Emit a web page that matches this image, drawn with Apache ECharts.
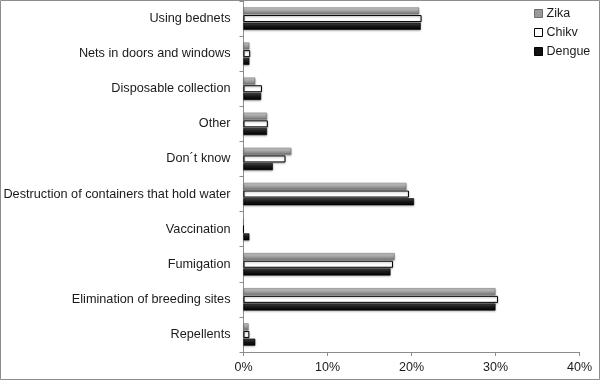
<!DOCTYPE html>
<html>
<head>
<meta charset="utf-8">
<script src="https://cdn.jsdelivr.net/npm/echarts@6/dist/echarts.min.js"></script>
<style>
html,body{margin:0;padding:0;background:#fff;}
#c{width:600px;height:380px;}
</style>
</head>
<body>
<div id="c"></div>
<script>
const categories = [
  "Using bednets",
  "Nets in doors and windows",
  "Disposable collection",
  "Other",
  "Don\u00b4t know",
  "Destruction of containers that hold water",
  "Vaccination",
  "Fumigation",
  "Elimination of breeding sites",
  "Repellents"
];
const zika   = [20.9, 0.7, 1.4, 2.8, 5.7, 19.4, 0,   18.0, 30.0, 0.6];
const chikv  = [21.2, 0.8, 2.2, 2.9, 5.0, 19.7, 0,   17.8, 30.3, 0.7];
const dengue = [21.1, 0.7, 2.1, 2.8, 3.5, 20.3, 0.7, 17.5, 30.0, 1.4];
const xTicks = [0, 10, 20, 30, 40];

const chart = echarts.init(document.getElementById('c'), null, {renderer: 'canvas'});

const zikaFill = new echarts.graphic.LinearGradient(0, 0, 0, 1, [
  {offset: 0, color: '#d6d6d6'},
  {offset: 0.5, color: '#a3a3a3'},
  {offset: 1, color: '#6e6e6e'}
]);
const dengueFill = new echarts.graphic.LinearGradient(0, 0, 0, 1, [
  {offset: 0, color: '#4a4a4a'},
  {offset: 0.45, color: '#1a1a1a'},
  {offset: 1, color: '#000000'}
]);

const barCommon = {
  type: 'bar',
  barWidth: 7,
  barGap: '10%',
  animation: false
};

chart.setOption({
  animation: false,
  backgroundColor: '#ffffff',
  textStyle: {fontFamily: 'Liberation Sans'},
  graphic: [{
    type: 'rect',
    shape: {x: 0.5, y: 0.5, width: 599, height: 379},
    style: {fill: 'none', stroke: '#8c8c8c', lineWidth: 1},
    silent: true,
    z: 100
  }],
  legend: {
    orient: 'vertical',
    left: 529,
    top: 2,
    itemWidth: 8,
    itemHeight: 8,
    itemGap: 6,
    icon: 'rect',
    textStyle: {fontSize: 12.5, color: '#1a1a1a', fontFamily: 'Liberation Sans', padding: [0, 0, 0, -1]},
    data: [
      {name: 'Zika', itemStyle: {color: '#9a9a9a', borderColor: '#6e6e6e', borderWidth: 1}},
      {name: 'Chikv', itemStyle: {color: '#ffffff', borderColor: '#000', borderWidth: 1}},
      {name: 'Dengue', itemStyle: {color: '#111', borderColor: '#000', borderWidth: 1}}
    ]
  },
  grid: {left: 243.5, right: 20.5, top: 1, bottom: 28, containLabel: false},
  xAxis: {
    type: 'value',
    min: xTicks[0],
    max: xTicks[xTicks.length - 1],
    interval: 10,
    axisLine: {show: true, lineStyle: {color: '#8c8c8c', width: 1}},
    axisTick: {show: true, length: 4, lineStyle: {color: '#8c8c8c'}},
    splitLine: {show: false},
    axisLabel: {
      fontSize: 12.5, color: '#1a1a1a', margin: 9, fontFamily: 'Liberation Sans',
      formatter: v => v + '%'
    }
  },
  yAxis: {
    type: 'category',
    inverse: true,
    data: categories,
    axisLine: {show: true, lineStyle: {color: '#8c8c8c', width: 1}},
    axisTick: {show: true, length: 4, lineStyle: {color: '#8c8c8c'}},
    axisLabel: {fontSize: 12.7, color: '#1a1a1a', margin: 13, fontFamily: 'Liberation Sans'}
  },
  series: [
    Object.assign({}, barCommon, {
      name: 'Zika', data: zika,
      itemStyle: {color: zikaFill, borderColor: '#7a7a7a', borderWidth: 0.6,
        shadowBlur: 2, shadowColor: 'rgba(0,0,0,0.3)', shadowOffsetY: 1}
    }),
    Object.assign({}, barCommon, {
      name: 'Chikv', data: chikv,
      itemStyle: {color: '#ffffff', borderColor: '#000000', borderWidth: 1,
        shadowBlur: 2, shadowColor: 'rgba(0,0,0,0.3)', shadowOffsetY: 1}
    }),
    Object.assign({}, barCommon, {
      name: 'Dengue', data: dengue,
      itemStyle: {color: dengueFill, borderColor: '#000000', borderWidth: 0.6,
        shadowBlur: 2, shadowColor: 'rgba(0,0,0,0.3)', shadowOffsetY: 1}
    })
  ]
});
</script>
</body>
</html>
